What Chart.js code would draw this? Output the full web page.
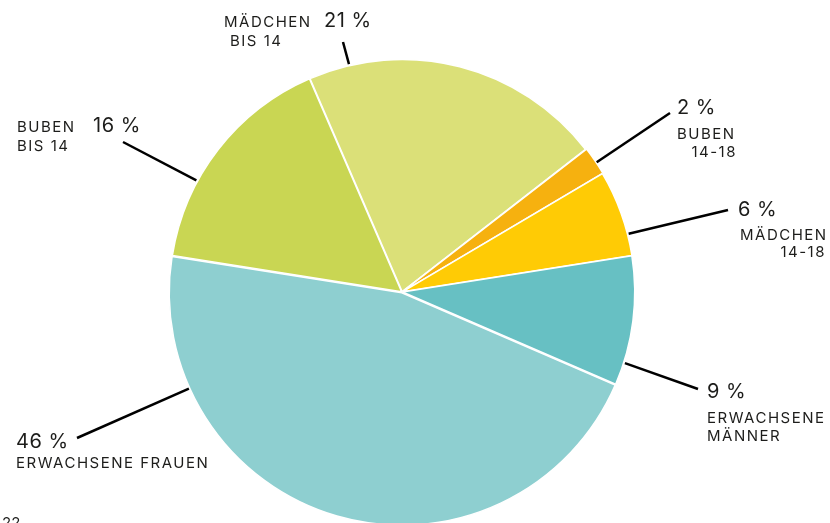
<!DOCTYPE html>
<html>
<head>
<meta charset="utf-8">
<script src="https://cdn.jsdelivr.net/npm/chart.js@4.4.1/dist/chart.umd.min.js"></script>
<style>
  html, body { margin: 0; padding: 0; overflow: hidden; background: #fff; }
  #wrap { width: 830px; height: 584px; position: relative; }
</style>
</head>
<body>
<div id="wrap"><canvas id="kuchen"></canvas></div>
<script>
// Daten
const kategorien = ['Mädchen bis 14', 'Buben 14-18', 'Mädchen 14-18', 'Erwachsene Männer', 'Erwachsene Frauen', 'Buben bis 14'];
const anteile = [21, 2, 6, 9, 46, 16];
const beschriftungen = [['MÄDCHEN', 'BIS 14'], ['BUBEN', '14-18'], ['MÄDCHEN', '14-18'], ['ERWACHSENE', 'MÄNNER'], ['ERWACHSENE FRAUEN'], ['BUBEN', 'BIS 14']];
const farben = ['#dbe078', '#f6b10f', '#ffcb05', '#67c0c3', '#8ecfd0', '#c9d653'];

// Platzierung der Beschriftungen (Winkel der Linie im Uhrzeigersinn ab oben, Linienende, Textpositionen)
const layout = [
  { winkel: -13.1, ende: [343, 42], pct: [324, 27], zeilen: [[224, 27, 'left'], [230, 46, 'left']] },
  { winkel: 56.3, ende: [670, 113], pct: [677, 114], zeilen: [[677, 139, 'left'], [737, 157, 'right']] },
  { winkel: 75.6, ende: [728, 210], pct: [738, 216], zeilen: [[740, 240, 'left'], [826, 257, 'right']] },
  { winkel: 107.7, ende: [698, 389], pct: [707, 398], zeilen: [[707, 423, 'left'], [707, 441, 'left']] },
  { winkel: 245.6, ende: [77, 438], pct: [16, 448], zeilen: [[16, 468, 'left']] },
  { winkel: 298.5, ende: [123, 142], pct: [93, 132], zeilen: [[17, 132, 'left'], [17, 151, 'left']] }
];

const schrift = 'Inter, Roboto, sans-serif';
const textFarbe = '#1d1d1b';

const beschriftungPlugin = {
  id: 'beschriftung',
  afterDraw(chart) {
    const ctx = chart.ctx;
    const arc = chart.getDatasetMeta(0).data[0];
    const cx = arc.x, cy = arc.y, r = arc.outerRadius;
    ctx.save();
    ctx.strokeStyle = '#000';
    ctx.lineWidth = 2.5;
    ctx.fillStyle = textFarbe;
    ctx.textBaseline = 'alphabetic';
    layout.forEach((l, i) => {
      const a = l.winkel * Math.PI / 180;
      ctx.beginPath();
      ctx.moveTo(cx + Math.sin(a) * (r + 2), cy - Math.cos(a) * (r + 2));
      ctx.lineTo(l.ende[0], l.ende[1]);
      ctx.stroke();

      ctx.letterSpacing = '0.5px';
      ctx.font = '20px ' + schrift;
      ctx.textAlign = 'left';
      ctx.fillText(anteile[i] + ' %', l.pct[0], l.pct[1]);

      ctx.letterSpacing = '1.5px';
      ctx.font = '15px ' + schrift;
      beschriftungen[i].forEach((t, j) => {
        const z = l.zeilen[j];
        ctx.textAlign = z[2];
        ctx.fillText(t, z[0], z[1]);
      });
    });
    ctx.letterSpacing = '0px';
    ctx.textAlign = 'left';
    ctx.font = '15px ' + schrift;
    ctx.fillText('22', 2, 528);
    ctx.restore();
  }
};

const ctx = document.getElementById('kuchen');
new Chart(ctx, {
  type: 'pie',
  data: {
    labels: kategorien,
    datasets: [{
      data: anteile,
      backgroundColor: farben,
      borderColor: '#ffffff',
      borderWidth: 1.5,
      offset: [2, 3, 2, 2, 3, 2],
      radius: 232
    }]
  },
  options: {
    responsive: true,
    maintainAspectRatio: false,
    animation: false,
    rotation: -23.4,
    layout: { padding: { top: 0, bottom: 0, left: 0, right: 26 } },
    plugins: {
      legend: { display: false },
      tooltip: { enabled: false }
    }
  },
  plugins: [beschriftungPlugin]
});
</script>
</body>
</html>
